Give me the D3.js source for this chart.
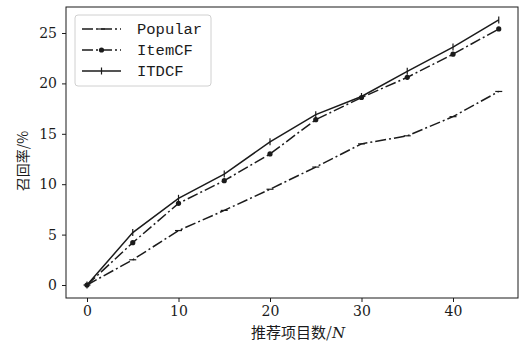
<!DOCTYPE html>
<html>
<head>
<meta charset="utf-8">
<script src="https://cdn.jsdelivr.net/npm/d3@7"></script>
<style>
  body { margin: 0; background: #fff; }
  svg { display: block; }
</style>
</head>
<body>
<div id="chart"></div>
<script>
const ink = '#1b1b1b';

const nValues  = [0, 5, 10, 15, 20, 25, 30, 35, 40, 45];
const popular  = [0, 2.5, 5.4, 7.4, 9.5, 11.7, 14.0, 14.8, 16.7, 19.2];
const itemCF   = [0, 4.2, 8.1, 10.35, 13.0, 16.4, 18.6, 20.6, 22.9, 25.4];
const itdcf    = [0, 5.2, 8.6, 11.0, 14.2, 16.9, 18.7, 21.2, 23.6, 26.3];
const xTicks   = [0, 10, 20, 30, 40];
const yTicks   = [0, 5, 10, 15, 20, 25];
const seriesNames = ['Popular', 'ItemCF', 'ITDCF'];

const W = 522, H = 342;
const box = { left: 66, right: 518, top: 7, bottom: 298 };

const svg = d3.select('#chart').append('svg').attr('width', W).attr('height', H);

const x = d3.scaleLinear().domain([0, 10]).range([87, 178.5]);
const y = d3.scaleLinear().domain([0, 25]).range([285, 33]);

// frame
svg.append('rect')
  .attr('x', box.left).attr('y', box.top)
  .attr('width', box.right - box.left).attr('height', box.bottom - box.top)
  .attr('fill', 'none').attr('stroke', ink).attr('stroke-width', 1);

// axes
const xAxis = svg.append('g').attr('transform', `translate(0,${box.bottom})`)
  .call(d3.axisBottom(x).tickValues(xTicks).tickSize(4).tickPadding(4));
const yAxis = svg.append('g').attr('transform', `translate(${box.left},0)`)
  .call(d3.axisLeft(y).tickValues(yTicks).tickSize(4).tickPadding(5));
[xAxis, yAxis].forEach(a => {
  a.select('.domain').remove();
  a.selectAll('line').attr('stroke', ink);
  a.selectAll('text').style('font-family', 'DejaVu Serif').style('font-size', '14px').style('fill', ink);
});

// axis labels
svg.append('text')
  .attr('x', 298).attr('y', 338)
  .attr('text-anchor', 'middle')
  .style('font-family', 'Noto Sans CJK SC').style('font-size', '15px').style('fill', ink)
  .text('推荐项目数/')
  .append('tspan').style('font-family', 'DejaVu Serif').style('font-style', 'italic').text('N');

svg.append('text')
  .attr('transform', 'translate(28,161) rotate(-90)')
  .attr('text-anchor', 'middle')
  .style('font-family', 'Noto Sans CJK SC').style('font-size', '14px').style('fill', ink)
  .text('召回率/%');

const dashDot = '11,3,2,3';
const styles = [
  { data: popular, dash: dashDot, marker: 'hline' },
  { data: itemCF,  dash: dashDot, marker: 'dot' },
  { data: itdcf,   dash: null,    marker: 'vline' },
];

const line = d3.line().x((d, i) => x(nValues[i])).y(d => y(d));

function drawMarker(g, kind, cx, cy) {
  if (kind === 'dot') {
    g.append('circle').attr('cx', cx).attr('cy', cy).attr('r', 2.6).attr('fill', ink);
  } else if (kind === 'vline') {
    g.append('path').attr('d', `M${cx},${cy - 3.5}V${cy + 3.5}`)
      .attr('stroke', ink).attr('stroke-width', 1.2);
  } else if (kind === 'hline') {
    g.append('path').attr('d', `M${cx - 3.5},${cy}H${cx + 3.5}`)
      .attr('stroke', ink).attr('stroke-width', 1.2);
  }
}

styles.forEach(s => {
  const g = svg.append('g');
  g.append('path').attr('d', line(s.data))
    .attr('fill', 'none').attr('stroke', ink).attr('stroke-width', 1.5)
    .attr('stroke-dasharray', s.dash);
  s.data.forEach((v, i) => drawMarker(g, s.marker, x(nValues[i]), y(v)));
});

// legend
const leg = svg.append('g');
leg.append('rect').attr('x', 75).attr('y', 15).attr('width', 136).attr('height', 71)
  .attr('rx', 3).attr('fill', '#fff').attr('fill-opacity', 0.8)
  .attr('stroke', '#d0d0d0').attr('stroke-width', 1);
seriesNames.forEach((name, i) => {
  const ly = 29 + i * 21;
  leg.append('path').attr('d', `M82,${ly}H121`)
    .attr('stroke', ink).attr('stroke-width', 1.5).attr('fill', 'none')
    .attr('stroke-dasharray', styles[i].dash);
  drawMarker(leg, styles[i].marker, 101.5, ly);
  leg.append('text').attr('x', 137).attr('y', ly + 5)
    .style('font-family', 'Liberation Mono').style('font-size', '15.5px').style('fill', ink)
    .text(name);
});
</script>
</body>
</html>
